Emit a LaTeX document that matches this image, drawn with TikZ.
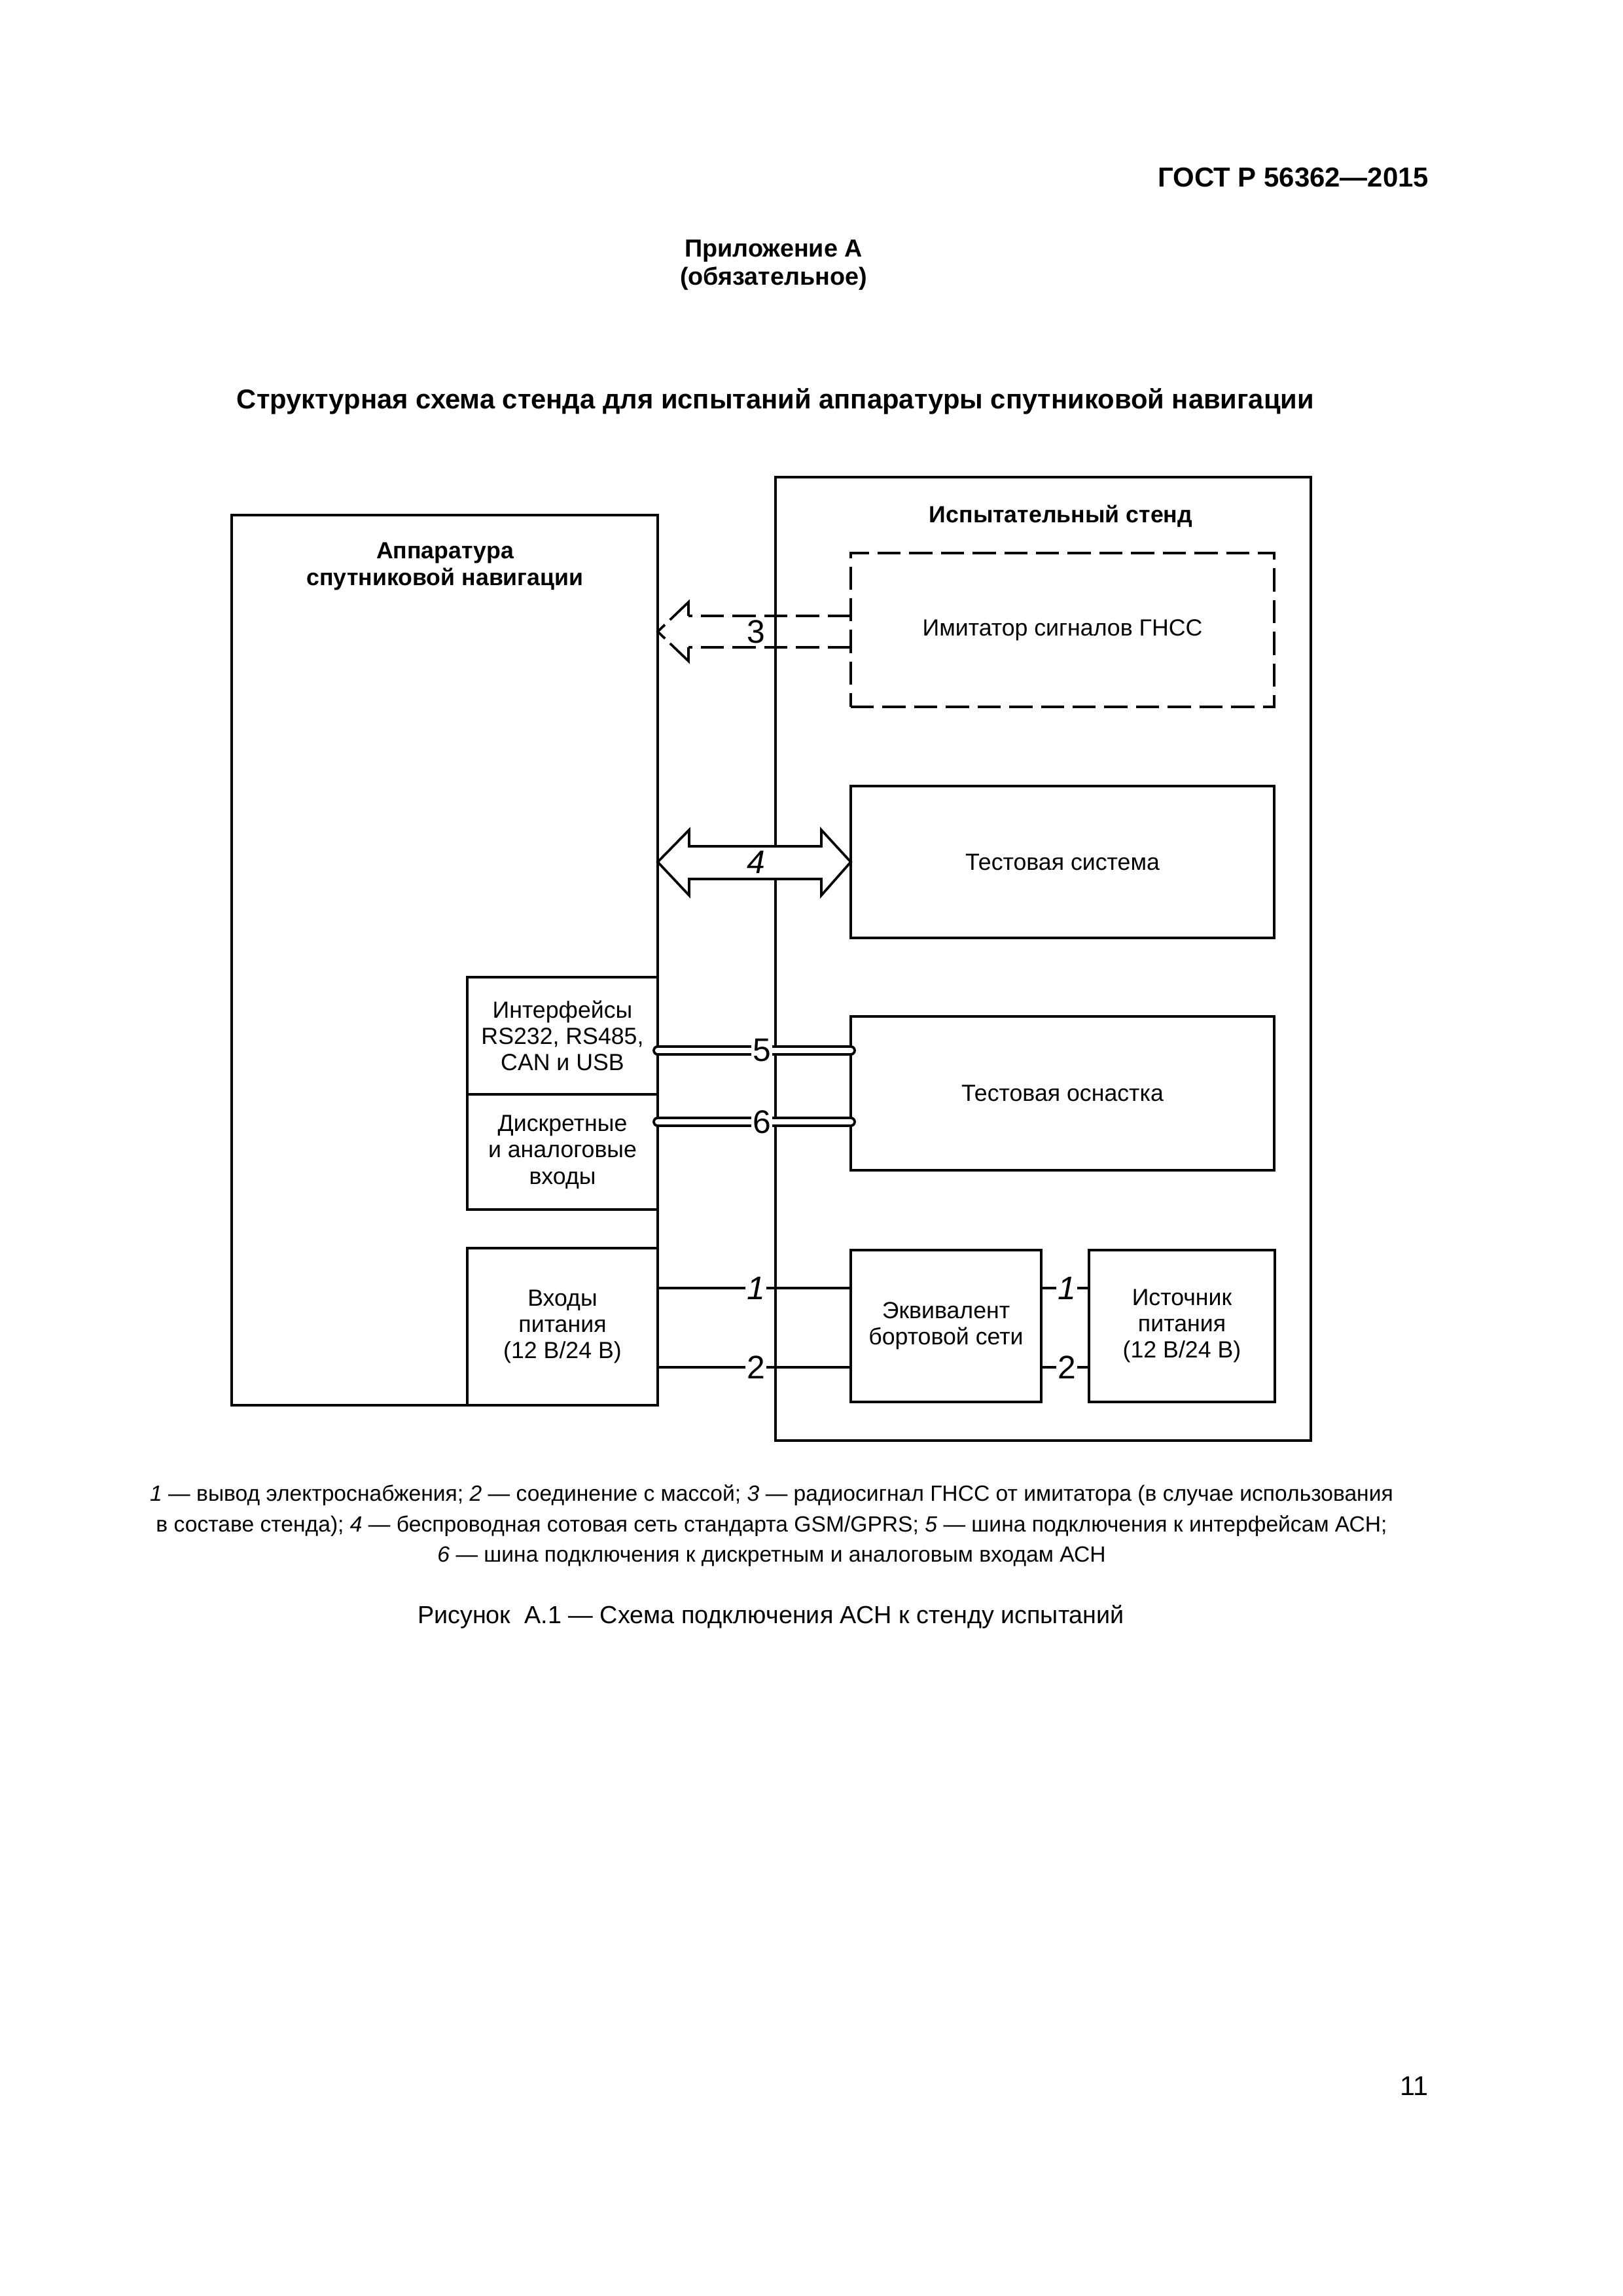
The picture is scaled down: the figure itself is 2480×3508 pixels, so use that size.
\documentclass[tikz,border=0pt]{standalone}
\usepackage{fontspec}
\setmainfont{Liberation Sans}
\newcommand\pxu{0.0846774mm}
\tikzset{
  blok/.style={draw, line width=.9pt, inner sep=0pt, outer sep=0pt, align=center,
    font=\fontsize{8.6}{9.7}\selectfont},
  shtrih/.style={dash pattern=on 3mm off 1.1mm},
  svyaz/.style={line width=.8pt},
  kabel/.style={double, line width=.9pt, double distance=2pt, line cap=round},
  nomer/.style={fill=white, inner sep=.6pt, font=\fontsize{12}{12}\selectfont},
  zagl/.style={align=center, font=\fontsize{8.6}{9.9}\bfseries\selectfont}
}
\begin{document}
\begin{tikzpicture}[x=\pxu, y=-\pxu]
\useasboundingbox[fill=white] (0,0) rectangle (2480,3508);
\node[anchor=east, inner sep=0pt, font=\fontsize{10.1}{12}\bfseries\selectfont] (gost) at (2184,271){ГОСТ Р 56362—2015};
\node[zagl, font=\fontsize{9.1}{10.2}\bfseries\selectfont] (pril) at (1182,405){Приложение А\\(обязательное)};
\node[font=\fontsize{10.05}{12}\bfseries\selectfont] (title) at (1185,613){Структурная схема стенда для испытаний аппаратуры спутниковой навигации};
\node[blok, minimum width=651*\pxu, minimum height=1360*\pxu] (asn) at (679.5,1467){};
\node[zagl] (asnt) at (680,865){Аппаратура\\спутниковой навигации};
\node[blok, minimum width=818*\pxu, minimum height=1472*\pxu] (stend) at (1594,1465){};
\node[zagl] (stendt) at (1621,789){Испытательный стенд};
\node[blok, shtrih, minimum width=647*\pxu, minimum height=235*\pxu] (imit) at (1623.5,962.5){Имитатор сигналов ГНСС};
\node[blok, minimum width=647*\pxu, minimum height=232*\pxu] (tsys) at (1623.5,1317){Тестовая система};
\node[blok, minimum width=647*\pxu, minimum height=235*\pxu] (tosn) at (1623.5,1670.5){Тестовая оснастка};
\node[blok, minimum width=291*\pxu, minimum height=232*\pxu] (ekv) at (1445.5,2026){Эквивалент\\бортовой сети};
\node[blok, minimum width=284*\pxu, minimum height=232*\pxu] (ist) at (1806,2026){Источник\\питания\\(12 В/24 В)};
\node[blok, minimum width=291*\pxu, minimum height=179*\pxu] (interf) at (859.5,1582.5){Интерфейсы\\RS232, RS485,\\CAN и USB};
\node[blok, minimum width=291*\pxu, minimum height=176*\pxu] (diskr) at (859.5,1760){Дискретные\\и аналоговые\\входы};
\node[blok, minimum width=291*\pxu, minimum height=240*\pxu] (vhod) at (859.5,2027){Входы\\питания\\(12 В/24 В)};
\draw[line width=.9pt, shtrih] (imit.west |- 0,941) -- ++(-248,0);
\draw[line width=.9pt, shtrih] (imit.west |- 0,989) -- ++(-248,0);
\draw[line width=.9pt, dash pattern=on 5.1mm off .9mm on 2.6mm off .9mm on 10mm] (1052,941) -- ++(0,-21) -- (asn.east |- 0,965) -- ++(47,45) -- ++(0,-21);
\node[nomer, fill=none] (n3) at (1155,965){3};
\draw[line width=.9pt, fill=white] (asn.east |- tsys) -- ++(48,-49) -- ++(0,25) -- ++(202,0) -- ++(0,-25) -- (tsys.west) -- ++(-45,51) -- ++(0,-25) -- ++(-202,0) -- ++(0,25) -- cycle;
\node[nomer, fill=none] (n4) at (1155,1317){\itshape 4};
\draw[kabel] (interf.east |- 0,1605) -- (tosn.west |- 0,1605);
\node[nomer] (n5) at (1164,1605){5};
\draw[kabel] (diskr.east |- 0,1714) -- (tosn.west |- 0,1714);
\node[nomer] (n6) at (1164,1714){6};
\draw[svyaz] (vhod.east |- 0,1968) -- (ekv.west |- 0,1968);
\node[nomer] (n1a) at (1155,1968){\itshape 1};
\draw[svyaz] (vhod.east |- 0,2089) -- (ekv.west |- 0,2089);
\node[nomer] (n2a) at (1155,2089){2};
\draw[svyaz] (ekv.east |- 0,1968) -- (ist.west |- 0,1968);
\node[nomer] (n1b) at (1630,1968){\itshape 1};
\draw[svyaz] (ekv.east |- 0,2089) -- (ist.west |- 0,2089);
\node[nomer] (n2b) at (1630,2089){2};
\node[align=center, font=\fontsize{8.1}{11.1}\selectfont] (legend) at (1179,2331){\textit{1} — вывод электроснабжения; \textit{2} — соединение с массой; \textit{3} — радиосигнал ГНСС от имитатора (в случае использования\\в составе стенда); \textit{4} — беспроводная сотовая сеть стандарта GSM/GPRS; \textit{5} — шина подключения к интерфейсам АСН;\\\textit{6} — шина подключения к дискретным и аналоговым входам АСН};
\node[font=\fontsize{9.1}{11}\selectfont] (ris) at (1178,2470){Рисунок\ \ А.1 — Схема подключения АСН к стенду испытаний};
\node[font=\fontsize{10}{12}\selectfont] (page) at (2161,3187){11};
\end{tikzpicture}
\end{document}
